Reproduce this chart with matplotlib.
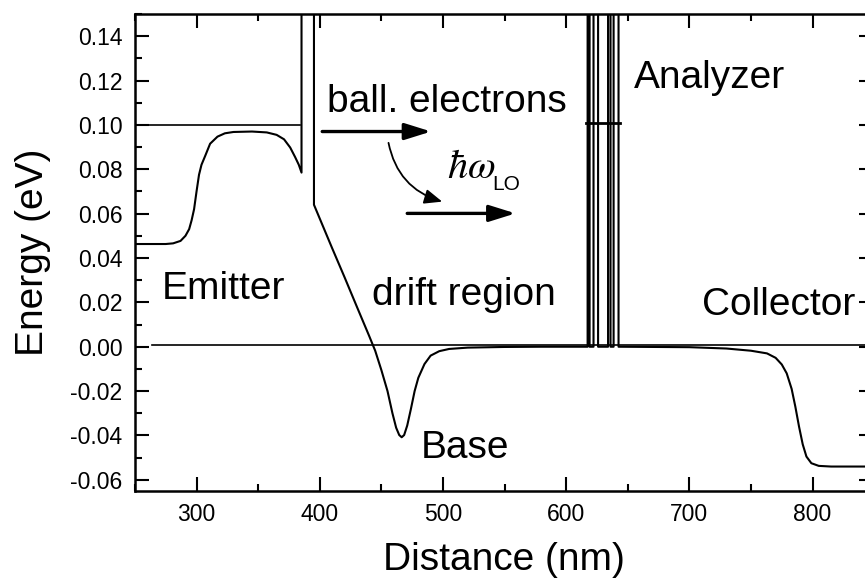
import matplotlib
matplotlib.use("Agg")
import matplotlib.pyplot as plt
from matplotlib.ticker import MultipleLocator, FormatStrFormatter

plt.rcParams['font.family'] = ['Liberation Sans', 'DejaVu Sans']
plt.rcParams['mathtext.fontset'] = 'stix'
plt.rcParams['axes.unicode_minus'] = False

# conduction band profile (nm, eV); barrier tops run off the top of the plot
band_x = [250, 275, 281, 287, 291, 294, 296, 298, 300, 302, 304, 307, 311, 317,
          323, 330, 345, 357, 365, 371, 376, 380, 383, 385.2,
          385.2, 395.3, 395.3,
          410, 420, 430, 440, 445, 450, 455, 459, 462, 464.5, 466.5, 468.5,
          471, 474, 477, 480, 485, 490, 497, 505, 520, 550, 580,
          617.4, 617.4, 619.0, 619.0, 622.2, 622.2, 625.9, 625.9,
          634.0, 634.0, 636.0, 636.0, 638.5, 638.5, 642.5, 642.5,
          700, 730, 750, 763, 770, 775, 779, 783, 786, 789, 792, 795, 799,
          805, 815, 850]
band_y = [0.0463, 0.0463, 0.0466, 0.0477, 0.0500, 0.0530, 0.0570, 0.0620, 0.0700,
          0.0775, 0.0820, 0.0860, 0.0915, 0.0947, 0.0962, 0.0968, 0.0970, 0.0966,
          0.0955, 0.0935, 0.0898, 0.0855, 0.0820, 0.0785,
          0.30, 0.30, 0.0640,
          0.0445, 0.0315, 0.0182, 0.0050, -0.0018, -0.0105, -0.0200, -0.0300,
          -0.0365, -0.0398, -0.0408, -0.0398,
          -0.0355, -0.0280, -0.0200, -0.0140, -0.0078, -0.0040, -0.0020, -0.0010,
          -0.0004, -0.0001, 0.0,
          0.0, 0.30, 0.30, 0.0, 0.0, 0.30, 0.30, 0.0,
          0.0, 0.30, 0.30, 0.0, 0.0, 0.30, 0.30, 0.0,
          -0.0002, -0.0008, -0.0018, -0.0030, -0.0050, -0.0080, -0.0120, -0.0190,
          -0.0270, -0.0360, -0.0440, -0.0495, -0.0525, -0.0537, -0.0540, -0.0540]

# Fermi levels
emitter_fermi_x = [257, 383.6]
emitter_fermi_y = [0.100, 0.100]
collector_fermi_x = [264, 850]
collector_fermi_y = [0.001, 0.001]
analyzer_level_x = [615.7, 644]
analyzer_level_y = [0.1008, 0.1008]

fig = plt.figure(figsize=(8.65, 5.81), dpi=100)
ax = fig.add_axes([0.156, 0.155, 0.8532, 0.821])

ax.plot(band_x, band_y, color='black', lw=1.5)
ax.plot(emitter_fermi_x, emitter_fermi_y, color='black', lw=1.2)
ax.plot(collector_fermi_x, collector_fermi_y, color='black', lw=1.2)
ax.plot(analyzer_level_x, analyzer_level_y, color='black', lw=2.0)

# arrows
big_head = dict(arrowstyle='-|>,head_length=0.8,head_width=0.25', color='black',
                lw=2.4, mutation_scale=20, shrinkA=0, shrinkB=0)
ax.annotate('', xy=(490.4, 0.097), xytext=(402, 0.097), arrowprops=big_head)
ax.annotate('', xy=(558.9, 0.0601), xytext=(471, 0.0601), arrowprops=big_head)
ax.annotate('', xy=(499.4, 0.0654), xytext=(455.8, 0.0919),
            arrowprops=dict(arrowstyle='-|>,head_length=0.6,head_width=0.25',
                            color='black', lw=1.3, mutation_scale=18,
                            shrinkA=0, shrinkB=0,
                            connectionstyle='arc3,rad=0.3'))

# labels (baseline positions)
fs = 28
ax.text(406, 0.1059, 'ball. electrons', fontsize=fs, va='baseline')
ax.text(272, 0.0214, 'Emitter', fontsize=fs, va='baseline')
ax.text(442.6, 0.0187, 'drift region', fontsize=fs, va='baseline')
ax.text(481.8, -0.0500, 'Base', fontsize=fs, va='baseline')
ax.text(654.7, 0.1166, 'Analyzer', fontsize=fs, va='baseline')
ax.text(710.4, 0.0142, 'Collector', fontsize=fs, va='baseline')
ax.text(503.5, 0.0761, r'$\hbar\omega$', fontsize=29, va='baseline')
ax.text(540, 0.0708, 'LO', fontsize=15, va='baseline')

ax.set_xlim(250, 849)
ax.set_ylim(-0.065, 0.15)
ax.xaxis.set_major_locator(MultipleLocator(100))
ax.xaxis.set_minor_locator(MultipleLocator(50))
ax.yaxis.set_major_locator(MultipleLocator(0.02))
ax.yaxis.set_minor_locator(MultipleLocator(0.01))
ax.yaxis.set_major_formatter(FormatStrFormatter('%.2f'))

ax.tick_params(which='both', direction='in', top=True, right=True, width=1.5,
               labelsize=16.5, pad=9)
ax.tick_params(which='major', length=10)
ax.tick_params(which='minor', length=5)
for s in ax.spines.values():
    s.set_linewidth(1.8)

ax.set_xlabel('Distance (nm)', fontsize=28, labelpad=11)
ax.set_ylabel('Energy (eV)', fontsize=28, labelpad=14)

fig.savefig('out.png', dpi=100)
